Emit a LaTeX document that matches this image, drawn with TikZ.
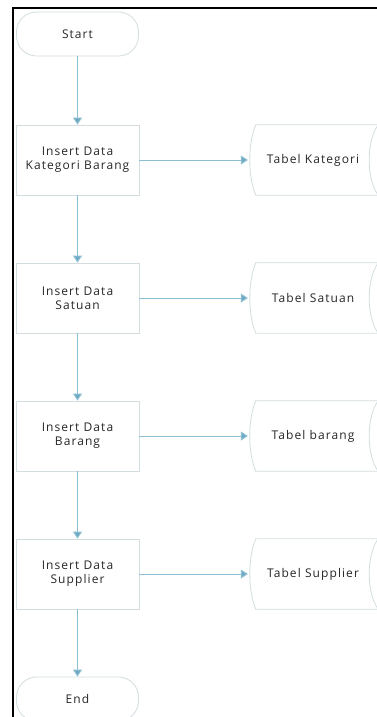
\documentclass[tikz,border=0pt]{standalone}
\usepackage{fontspec}
\setmainfont{Open Sans}[LetterSpace=9]
\usepackage{tikz}
\usetikzlibrary{arrows.meta,calc}

\definecolor{flowblue}{HTML}{8DBFD2}
\definecolor{tipblue}{HTML}{6FA8C2}
\definecolor{shapegray}{HTML}{D3DCDF}

\begin{document}
\begin{tikzpicture}[x=1pt, y=-1pt,
  terminal/.style={draw=shapegray, line width=0.8pt, rounded corners=20pt,
    minimum width=122pt, minimum height=44pt, align=center,
    font=\fontsize{12}{14}\selectfont, text=black!85},
  proc/.style={draw=shapegray, line width=0.8pt,
    minimum width=123pt, minimum height=70pt, align=center,
    font=\fontsize{12}{14}\selectfont, text=black!85},
  store/.style={minimum width=126pt, minimum height=70pt, inner sep=0pt,
    font=\fontsize{12}{14}\selectfont, text=black!85},
  flow/.style={draw=flowblue, line width=1pt, -{Triangle[width=9pt,length=7pt,fill=tipblue]}}]

\clip (0,0) rectangle (377,717);

\draw [line width=1.6pt] (13,717) -- (13,8) -- (377,8);

\node [terminal] (start) at (77.5,34) {Start};

\foreach \t/\l [count=\i] in {{Insert Data\\Kategori Barang}/Kategori,
                               {Insert Data\\Satuan}/Satuan,
                               {Insert Data\\Barang}/barang,
                               {Insert Data\\Supplier}/Supplier}
{
  \node [proc] (insert-\i) at (77.5,160+\i*138-138) {\t};
  \node [store] (tabel-\i) at (313,160+\i*138-138) {Tabel \l};
}

\node [terminal] (end) at (77.5,699) {End};

\foreach \i in {1,...,4}
  \draw [draw=shapegray, line width=0.8pt]
    ($(tabel-\i.north west)+(6,0)$) -- ($(tabel-\i.north east)+(2,0)$)
    .. controls ($(tabel-\i.north east)+(-10,16)$) and ($(tabel-\i.south east)+(-10,-16)$) .. ($(tabel-\i.south east)+(2,0)$)
    -- ($(tabel-\i.south west)+(6,0)$)
    .. controls ($(tabel-\i.south west)+(-2,-18)$) and ($(tabel-\i.north west)+(-2,18)$) .. cycle;

\draw [flow] (start) -- (insert-1);
\foreach \i [count=\j from 2] in {1,2,3}
  \draw [flow] (insert-\i) -- (insert-\j);
\draw [flow] (insert-4) -- (end);

\foreach \i in {1,...,4}
  \draw [flow] (insert-\i) -- ($(tabel-\i.west)+(-2,0)$);

\end{tikzpicture}
\end{document}
